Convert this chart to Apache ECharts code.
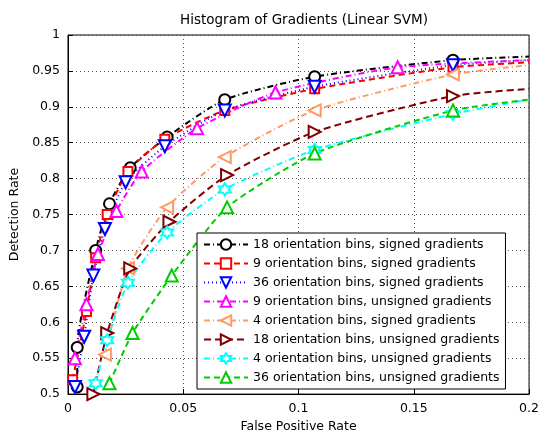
<!DOCTYPE html>
<html><head><meta charset="utf-8">
<script src="https://cdn.jsdelivr.net/npm/echarts@6/dist/echarts.min.js"></script>
<style>html,body{margin:0;background:#fff}#main{width:542px;height:438px}</style>
</head><body><div id="main"></div>
<script>
var names = ['18 orientation bins, signed gradients','9 orientation bins, signed gradients','36 orientation bins, signed gradients','9 orientation bins, unsigned gradients','4 orientation bins, signed gradients','18 orientation bins, unsigned gradients','4 orientation bins, unsigned gradients','36 orientation bins, unsigned gradients'];
var s18s = [[0.004,0.51],[0.004,0.565],[0.012,0.70],[0.018,0.765],[0.027,0.815],[0.043,0.858],[0.068,0.91],[0.107,0.942],[0.167,0.965],[0.2,0.97]];
var s9s = [[0.002,0.52],[0.008,0.615],[0.012,0.69],[0.017,0.75],[0.026,0.81],[0.042,0.855],[0.068,0.895],[0.107,0.925],[0.167,0.955],[0.2,0.962]];
var s36s = [[0.003,0.51],[0.007,0.58],[0.011,0.665],[0.016,0.73],[0.025,0.795],[0.042,0.845],[0.068,0.895],[0.107,0.928],[0.167,0.958],[0.2,0.965]];
var s9u = [[0.003,0.55],[0.008,0.625],[0.013,0.695],[0.021,0.755],[0.032,0.81],[0.056,0.87],[0.09,0.92],[0.143,0.955],[0.2,0.965]];
var s4s = [[0.016,0.555],[0.026,0.675],[0.043,0.76],[0.068,0.83],[0.107,0.895],[0.167,0.945],[0.2,0.958]];
var s18u = [[0.011,0.5],[0.017,0.585],[0.027,0.675],[0.044,0.74],[0.069,0.805],[0.107,0.865],[0.167,0.915],[0.2,0.925]];
var s4u = [[0.012,0.515],[0.017,0.575],[0.026,0.655],[0.043,0.725],[0.068,0.785],[0.107,0.84],[0.167,0.89],[0.2,0.91]];
var s36u = [[0.018,0.515],[0.028,0.585],[0.045,0.665],[0.069,0.76],[0.107,0.835],[0.167,0.895],[0.2,0.91]];
var allData = [s18s,s9s,s36s,s9u,s4s,s18u,s4u,s36u];
var colors = ['#000000','#ff0000','#0000ff','#ff00ff','#ff9966','#800000','#00ffff','#00cc00'];
var dashes = [[6,3,1,3],[6,4],[1,3],[6,3,1,3],[6,3,1,3],[7,4],[6,3,1,3],[6,4]];
var star = 'path://M0,-10L2.9,-5L8.7,-5L5.8,0L8.7,5L2.9,5L0,10L-2.9,5L-8.7,5L-5.8,0L-8.7,-5L-2.9,-5Z';
var symbols = ['circle','rect','triangle','triangle','triangle','triangle',star,'triangle'];
var rotates = [0,0,180,0,90,-90,0,0];
var sizes = [11,9,12,12,12,12,12,12];

var myChart = echarts.init(document.getElementById('main'));
var series = allData.map(function(d,i){
  // the point at the right edge carries no marker
  var pts = d.map(function(p){ return p[0] >= 0.2 ? {value:p, symbol:'none'} : p; });
  return {
    name: names[i], type:'line', data:pts, symbol:symbols[i], symbolRotate:rotates[i], symbolSize:sizes[i],
    showAllSymbol:true, smooth:0.2,
    lineStyle:{color:colors[i], width:2, type:dashes[i]},
    itemStyle:{color:'#ffffff', borderColor:colors[i], borderWidth:2},
    clip:false
  };
});
myChart.setOption({
  animation:false,
  title:{text:'Histogram of Gradients (Linear SVM)', left:299, top:8, textAlign:'center',
    textStyle:{fontSize:13.5, fontWeight:'normal', color:'#000', fontFamily:'DejaVu Sans'}},
  grid:{left:68, right:12, top:35, bottom:40, show:true, borderColor:'#000', borderWidth:1},
  xAxis:{type:'value', min:0, max:0.2, interval:0.05, name:'False Positive Rate', nameLocation:'middle', nameGap:24,
    nameTextStyle:{fontSize:12.5, color:'#000', fontFamily:'DejaVu Sans'},
    axisLine:{lineStyle:{color:'#000'}}, axisTick:{inside:true, lineStyle:{color:'#000'}},
    axisLabel:{color:'#000', fontSize:12.5, fontFamily:'DejaVu Sans', formatter:function(v){return v===0?'0':String(+v.toFixed(2));}},
    splitLine:{show:true, lineStyle:{type:[1,3], color:'#555'}}},
  yAxis:{type:'value', min:0.5, max:1, interval:0.05, name:'Detection Rate', nameLocation:'middle', nameGap:44,
    nameTextStyle:{fontSize:12.5, color:'#000', fontFamily:'DejaVu Sans'},
    axisLine:{lineStyle:{color:'#000'}}, axisTick:{inside:true, lineStyle:{color:'#000'}},
    axisLabel:{color:'#000', fontSize:12.5, fontFamily:'DejaVu Sans', formatter:function(v){return v===1?'1':String(+v.toFixed(2));}},
    splitLine:{show:true, lineStyle:{type:[1,3], color:'#555'}}},
  legend:{orient:'vertical', left:197, top:233, width:333, itemGap:6, itemWidth:44, itemHeight:13,
    backgroundColor:'#fff', borderColor:'#000', borderWidth:1, padding:[5,6,5,6],
    textStyle:{fontSize:12.5, color:'#000', fontFamily:'DejaVu Sans'}, data:names},
  series:series
});
</script></body></html>
